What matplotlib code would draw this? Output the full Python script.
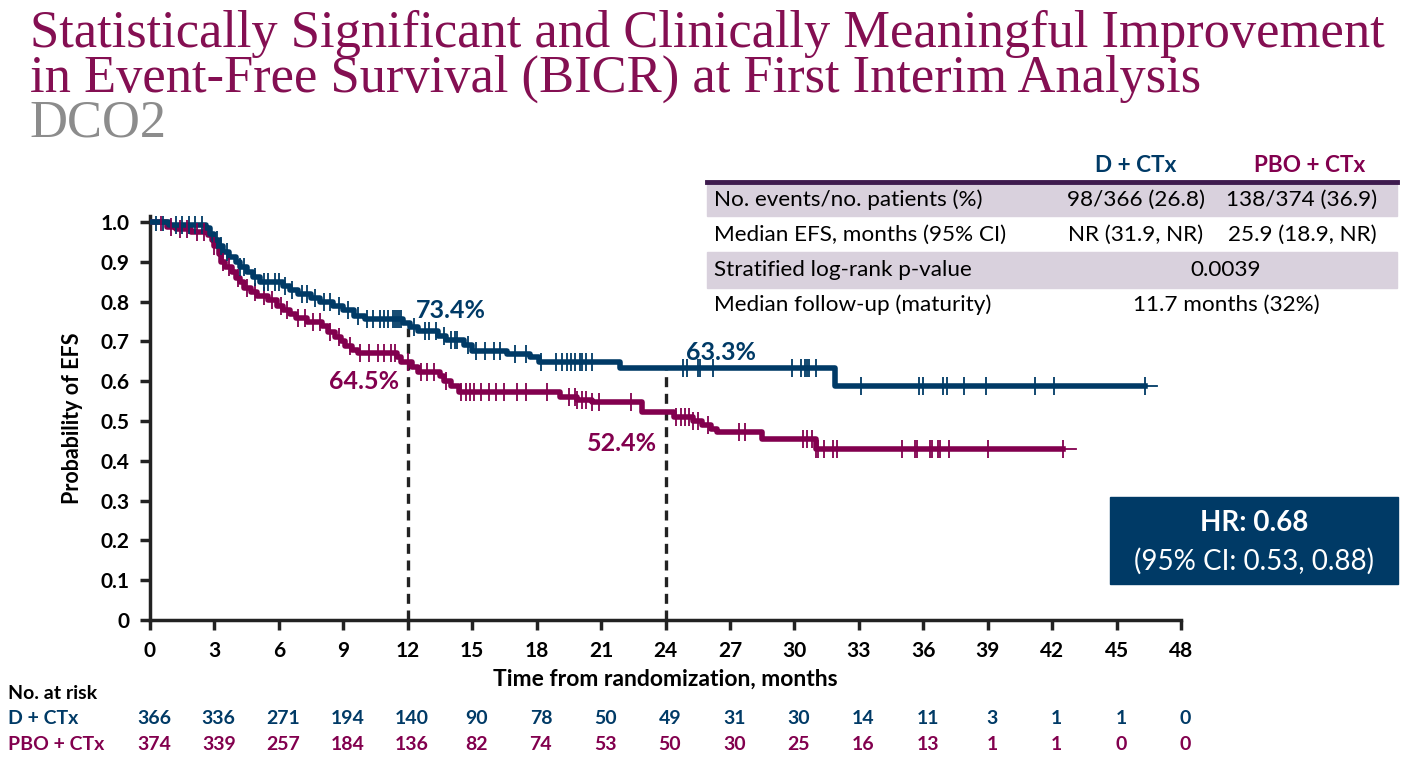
import numpy as np
import matplotlib
matplotlib.use("Agg")
from matplotlib import pyplot as plt
from matplotlib.patches import Rectangle
import matplotlib.transforms as mtransforms

# colours
BLUE = "#003A66"
MAG = "#82004E"
TITLE = "#840F52"

# KM curve D + CTx: time of drop, survival after drop
d_t = [0, 0.9, 2.6, 2.8, 3.0, 3.2, 3.4, 3.7, 4.0, 4.2, 4.5, 4.8, 5.1, 6.2, 6.5, 6.9, 7.5, 7.9,
       8.5, 9.0, 9.5, 10.0, 11.8, 12.1, 12.5, 13.4, 13.8, 14.6, 15.0, 16.6, 17.7, 18.1, 21.9, 31.9]
d_s = [1.0, 0.993, 0.985, 0.97, 0.955, 0.94, 0.925, 0.912, 0.9, 0.887, 0.875, 0.862, 0.85, 0.84,
       0.83, 0.82, 0.81, 0.798, 0.788, 0.778, 0.765, 0.756, 0.746, 0.736, 0.726, 0.714, 0.704,
       0.69, 0.676, 0.668, 0.66, 0.648, 0.633, 0.588]
d_end = 46.3
d_cens = [0.3, 0.6, 1.2, 1.5, 1.8, 2.1, 2.4, 3.1, 3.3, 3.6, 4.2, 4.4, 4.9, 5.3, 5.5, 5.8, 6.0, 6.3,
          6.6, 7.1, 7.3, 7.7, 8.1, 8.4, 8.8, 9.2, 9.7, 10.1, 10.4, 10.7, 10.9, 11.1, 11.3, 11.4,
          11.5, 11.6, 11.7, 12.3, 12.8, 13.0, 13.3, 13.7, 14.0, 14.2, 14.3, 14.8, 15.2, 15.6, 16.0,
          16.3, 17.0, 17.5, 18.2, 18.9, 19.2, 19.4, 19.6, 19.8, 20.0, 20.1, 20.3, 20.6, 24.8, 25.0,
          25.5, 25.6, 26.2, 29.9, 30.3, 30.5, 30.6, 30.7, 31.0, 33.1, 35.8, 36.0, 36.9, 37.1, 37.9,
          38.9, 41.2, 42.1, 46.3]

# KM curve PBO + CTx
p_t = [0, 0.8, 1.2, 1.9, 2.7, 2.9, 3.0, 3.2, 3.3, 3.5, 3.8, 4.0, 4.2, 4.4, 4.7, 5.0, 5.5, 5.9, 6.2,
       6.5, 6.8, 7.3, 8.0, 8.3, 8.6, 8.9, 9.1, 9.4, 9.7, 11.5, 11.7, 12.2, 12.5, 13.5, 13.7, 14.0,
       14.4, 19.1, 19.9, 20.6, 22.9, 24.4, 25.3, 25.7, 26.1, 26.4, 28.5, 31.0]
p_s = [1.0, 0.988, 0.982, 0.975, 0.968, 0.955, 0.94, 0.92, 0.9, 0.888, 0.875, 0.86, 0.848, 0.835,
       0.824, 0.813, 0.804, 0.79, 0.78, 0.77, 0.758, 0.748, 0.738, 0.724, 0.712, 0.7, 0.688, 0.678,
       0.67, 0.66, 0.648, 0.636, 0.624, 0.612, 0.6, 0.588, 0.574, 0.56, 0.553, 0.548, 0.523, 0.51,
       0.5, 0.49, 0.48, 0.473, 0.455, 0.43]
p_end = 42.5
p_cens = [0.5, 1.0, 1.4, 1.7, 2.2, 2.5, 3.0, 3.4, 3.7, 4.1, 4.5, 4.9, 5.3, 5.7, 6.1, 6.4, 6.9, 7.2,
          7.6, 7.9, 8.4, 8.8, 9.3, 9.8, 10.2, 10.6, 10.9, 11.2, 11.4, 12.0, 12.6, 12.9, 13.2, 13.8,
          14.5, 14.7, 14.9, 15.1, 15.4, 15.8, 16.1, 16.5, 17.1, 17.5, 18.5, 19.5, 19.8, 19.9, 20.1,
          20.3, 20.6, 20.9, 22.4, 24.5, 24.7, 24.9, 25.1, 25.3, 25.5, 26.0, 27.4, 27.7, 30.4, 30.6,
          30.8, 31.0, 31.1, 31.4, 31.8, 32.0, 35.0, 35.6, 35.7, 36.3, 36.4, 36.7, 36.8, 37.2, 39.0,
          42.5]

risk_times = list(range(0, 49, 3))
risk_d = [366, 336, 271, 194, 140, 90, 78, 50, 49, 31, 30, 14, 11, 3, 1, 1, 0]
risk_p = [374, 339, 257, 184, 136, 82, 74, 53, 50, 30, 25, 16, 13, 1, 1, 0, 0]

# landmark estimates
lm_times = [12, 24]
lm_d = [0.734, 0.633]
lm_p = [0.645, 0.524]

tbl_rows = ["No. events/no. patients (%)", "Median EFS, months (95% CI)",
            "Stratified log-rank p-value", "Median follow-up (maturity)"]
tbl_d = ["98/366 (26.8)", "NR (31.9, NR)", "0.0039", "11.7 months (32%)"]
tbl_p = ["138/374 (36.9)", "25.9 (18.9, NR)", None, None]

SANS = ["Lato", "DejaVu Sans"]
plt.rcParams["font.family"] = SANS

fig = plt.figure(figsize=(14.07, 7.6), dpi=100)

# title
fig.text(0.021, 0.938, "Statistically Significant and Clinically Meaningful Improvement",
         family="Liberation Serif", fontsize=37.8, color=TITLE, va="baseline")
fig.text(0.021, 0.879, "in Event-Free Survival (BICR) at First Interim Analysis",
         family="Liberation Serif", fontsize=37.8, color=TITLE, va="baseline")
fig.text(0.021, 0.820, "DCO2", family="Liberation Serif", fontsize=37.8, color="#8C8C8C",
         va="baseline")

ax = fig.add_axes([0.1066, 0.1842, 0.7328, 0.5316])


def km(ax, t, s, end, cens, col):
    xs = list(t) + [end]
    ys = list(s) + [s[-1]]
    ax.step(xs, ys, where="post", color=col, lw=4, zorder=3)
    idx = np.searchsorted(np.array(t), np.array(cens), side="right") - 1
    cy = np.array(s)[idx]
    ax.plot(cens, cy, ls="none", marker="|", ms=13, mew=1.3, color=col, zorder=4)
    ax.plot([end, end + 0.6], [s[-1], s[-1]], color=col, lw=1.3, zorder=4)


km(ax, p_t, p_s, p_end, p_cens, MAG)
km(ax, d_t, d_s, d_end, d_cens, BLUE)

for x, yd in zip(lm_times, lm_d):
    ax.plot([x, x], [0, yd], color="#222222", lw=2.4, ls=(0, (3, 2)), zorder=2)

ax.text(12.4, 0.778, "73.4%", color=BLUE, fontsize=18, fontweight="bold", ha="left", va="center")
ax.text(11.6, 0.598, "64.5%", color=MAG, fontsize=18, fontweight="bold", ha="right", va="center")
ax.text(26.6, 0.672, "63.3%", color=BLUE, fontsize=18, fontweight="bold", ha="center", va="center")
ax.text(23.6, 0.443, "52.4%", color=MAG, fontsize=18, fontweight="bold", ha="right", va="center")

ax.set_xlim(0, 48)
ax.set_ylim(0, 1.015)
ax.set_xticks(risk_times)
ax.set_yticks(np.arange(0, 1.01, 0.1))
ax.set_yticklabels(["0"] + ["%.1f" % v for v in np.arange(0.1, 1.01, 0.1)])
for sp in ["top", "right"]:
    ax.spines[sp].set_visible(False)
for sp in ["left", "bottom"]:
    ax.spines[sp].set_linewidth(2.5)
    ax.spines[sp].set_color("#222222")
ax.tick_params(direction="out", length=7, width=2.5, color="#222222", labelsize=15, pad=8)
for lab in ax.get_xticklabels() + ax.get_yticklabels():
    lab.set_fontweight("bold")
ax.set_ylabel("Probability of EFS", fontsize=15.5, fontweight="bold", labelpad=12)
ax.set_xlabel("Time from randomization, months", fontsize=16.5, fontweight="bold", labelpad=6)
ax.patch.set_alpha(0)

# number at risk
trans = mtransforms.blended_transform_factory(ax.transData, fig.transFigure)
fig.text(0.006, 0.088, "No. at risk", fontsize=14, fontweight="bold", va="center")
fig.text(0.006, 0.055, "D + CTx", fontsize=14, fontweight="bold", color=BLUE, va="center")
fig.text(0.006, 0.020, "PBO + CTx", fontsize=14, fontweight="bold", color=MAG, va="center")
for x, a, b in zip(risk_times, risk_d, risk_p):
    ax.text(x + 0.2, 0.055, str(a), transform=trans, ha="center", va="center", fontsize=14,
            fontweight="bold", color=BLUE)
    ax.text(x + 0.2, 0.020, str(b), transform=trans, ha="center", va="center", fontsize=14,
            fontweight="bold", color=MAG)

# summary table
W, H = 1407, 760
row_top = [184, 218, 252, 288]
row_bot = [216, 252, 288, 322]
for i, (rt, rb) in enumerate(zip(row_top, row_bot)):
    if i % 2 == 0:
        fig.patches.append(Rectangle((707 / W, 1 - rb / H), 690 / W, (rb - rt) / H,
                                     transform=fig.transFigure, color="#D9D1DD", zorder=0))
    yc = 1 - (rt + rb) / 2 / H
    fig.text(714 / W, yc, tbl_rows[i], fontsize=16.2, va="center")
    if tbl_p[i] is None:
        fig.text(1226 / W, yc, tbl_d[i], fontsize=16.2, va="center", ha="center")
    else:
        fig.text(1136 / W, yc, tbl_d[i], fontsize=16.2, va="center", ha="center")
        fig.text(1302 / W, yc, tbl_p[i], fontsize=16.2, va="center", ha="center")
fig.add_artist(plt.Line2D([707 / W, 1397 / W], [1 - 182 / H, 1 - 182 / H],
                          color="#3E1B4E", lw=3.5, transform=fig.transFigure))
fig.text(1136 / W, 1 - 165 / H, "D + CTx", fontsize=16.2, fontweight="bold", color=BLUE,
         ha="center", va="center")
fig.text(1310 / W, 1 - 165 / H, "PBO + CTx", fontsize=16.2, fontweight="bold", color=MAG,
         ha="center", va="center")

# HR box
fig.patches.append(Rectangle((1110 / W, 1 - 584 / H), 288 / W, 87 / H,
                             transform=fig.transFigure, color="#003A66", zorder=0))
fig.text(1254 / W, 1 - 523 / H, "HR: 0.68", fontsize=20, fontweight="bold", color="white",
         ha="center", va="center")
fig.text(1254 / W, 1 - 561 / H, "(95% CI: 0.53, 0.88)", fontsize=20, color="white",
         ha="center", va="center")

fig.savefig("out.png", dpi=100)
